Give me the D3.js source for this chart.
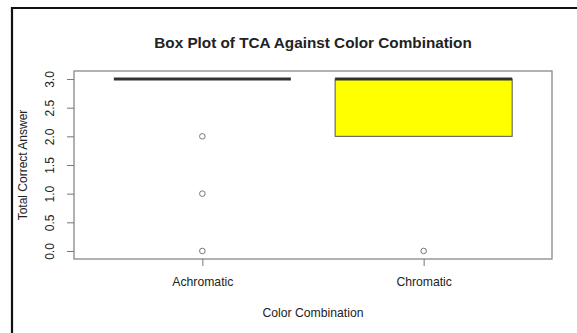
<!DOCTYPE html>
<html>
<head>
<meta charset="utf-8">
<script src="https://cdn.jsdelivr.net/npm/d3@7"></script>
<style>
  html, body { margin: 0; padding: 0; background: #fff; }
  svg { display: block; }
  text { font-family: "Liberation Sans", Arial, sans-serif; fill: #222; }
</style>
</head>
<body>
<svg id="chart" width="577" height="333"></svg>
<script>
// Groups and their summary statistics (Total Correct Answer)
const categories = ["Achromatic", "Chromatic"];
const q1Values     = [3, 2];
const medianValues = [3, 3];
const q3Values     = [3, 3];
const whiskerLow   = [3, 2];
const whiskerHigh  = [3, 3];
const outliers     = [[2, 1, 0], [0]];
const boxFills     = ["#ffffff", "#ffff00"];
const yTicks       = [0, 0.5, 1, 1.5, 2, 2.5, 3];

const title  = "Box Plot of TCA Against Color Combination";
const xTitle = "Color Combination";
const yTitle = "Total Correct Answer";

const svg = d3.select("#chart");

// Plot region
const plotLeft = 74, plotRight = 552, plotTop = 71, plotBottom = 259;

const x = d3.scaleLinear().domain([0.42, 2.58]).range([plotLeft, plotRight]);
const y = d3.scaleLinear().domain([-0.14, 3.14]).range([plotBottom, plotTop]);
const boxHalf = 0.4;

// Outer frame
svg.append("path")
  .attr("d", `M12,333 L12,8 L577,8`)
  .attr("fill", "none").attr("stroke", "#111").attr("stroke-width", 2.2);

// Title
svg.append("text")
  .attr("x", 313).attr("y", 48)
  .attr("text-anchor", "middle")
  .attr("font-size", 15.3).attr("font-weight", "bold")
  .text(title);

// Boxes
categories.forEach((c, i) => {
  const cx = i + 1;
  const g = svg.append("g");
  // whiskers
  g.append("line")
    .attr("x1", x(cx)).attr("x2", x(cx))
    .attr("y1", y(whiskerLow[i])).attr("y2", y(q1Values[i]))
    .attr("stroke", "#333").attr("stroke-dasharray", "4,3");
  g.append("line")
    .attr("x1", x(cx)).attr("x2", x(cx))
    .attr("y1", y(q3Values[i])).attr("y2", y(whiskerHigh[i]))
    .attr("stroke", "#333").attr("stroke-dasharray", "4,3");
  // box
  g.append("rect")
    .attr("x", x(cx - boxHalf)).attr("width", x(cx + boxHalf) - x(cx - boxHalf))
    .attr("y", y(q3Values[i])).attr("height", y(q1Values[i]) - y(q3Values[i]))
    .attr("fill", boxFills[i]).attr("stroke", "#555").attr("stroke-width", 1);
  // median
  g.append("line")
    .attr("x1", x(cx - boxHalf)).attr("x2", x(cx + boxHalf))
    .attr("y1", y(medianValues[i])).attr("y2", y(medianValues[i]))
    .attr("stroke", "#333").attr("stroke-width", 3);
  // outliers
  g.selectAll("circle").data(outliers[i]).join("circle")
    .attr("cx", x(cx)).attr("cy", d => y(d)).attr("r", 2.8)
    .attr("fill", "none").attr("stroke", "#777").attr("stroke-width", 1);
});

// Plot border
svg.append("rect")
  .attr("x", plotLeft).attr("y", plotTop)
  .attr("width", plotRight - plotLeft).attr("height", plotBottom - plotTop)
  .attr("fill", "none").attr("stroke", "#888").attr("stroke-width", 1.3);

// Y axis
const yAxis = svg.append("g")
  .attr("transform", `translate(${plotLeft},0)`)
  .call(d3.axisLeft(y).tickValues(yTicks).tickSize(7).tickFormat(d3.format(".1f")));
yAxis.select(".domain").remove();
yAxis.selectAll(".tick line").attr("stroke", "#777");
yAxis.selectAll(".tick text")
  .attr("transform", "rotate(-90)")
  .attr("x", 0).attr("y", -24).attr("dy", "0.35em")
  .attr("text-anchor", "middle")
  .attr("font-size", 12).attr("fill", "#333");

// X axis
const xAxis = svg.append("g")
  .attr("transform", `translate(0,${plotBottom})`)
  .call(d3.axisBottom(x).tickValues([1, 2]).tickSize(7).tickFormat(d => categories[d - 1]));
xAxis.select(".domain").remove();
xAxis.selectAll(".tick line").attr("stroke", "#777");
xAxis.selectAll(".tick text")
  .attr("y", 18).attr("dy", "0.71em")
  .attr("font-size", 12.2).attr("fill", "#222");

// Axis titles
svg.append("text")
  .attr("x", 313).attr("y", 317)
  .attr("text-anchor", "middle").attr("font-size", 12.2)
  .text(xTitle);
svg.append("text")
  .attr("transform", `translate(27,165) rotate(-90)`)
  .attr("text-anchor", "middle").attr("font-size", 12)
  .text(yTitle);
</script>
</body>
</html>
